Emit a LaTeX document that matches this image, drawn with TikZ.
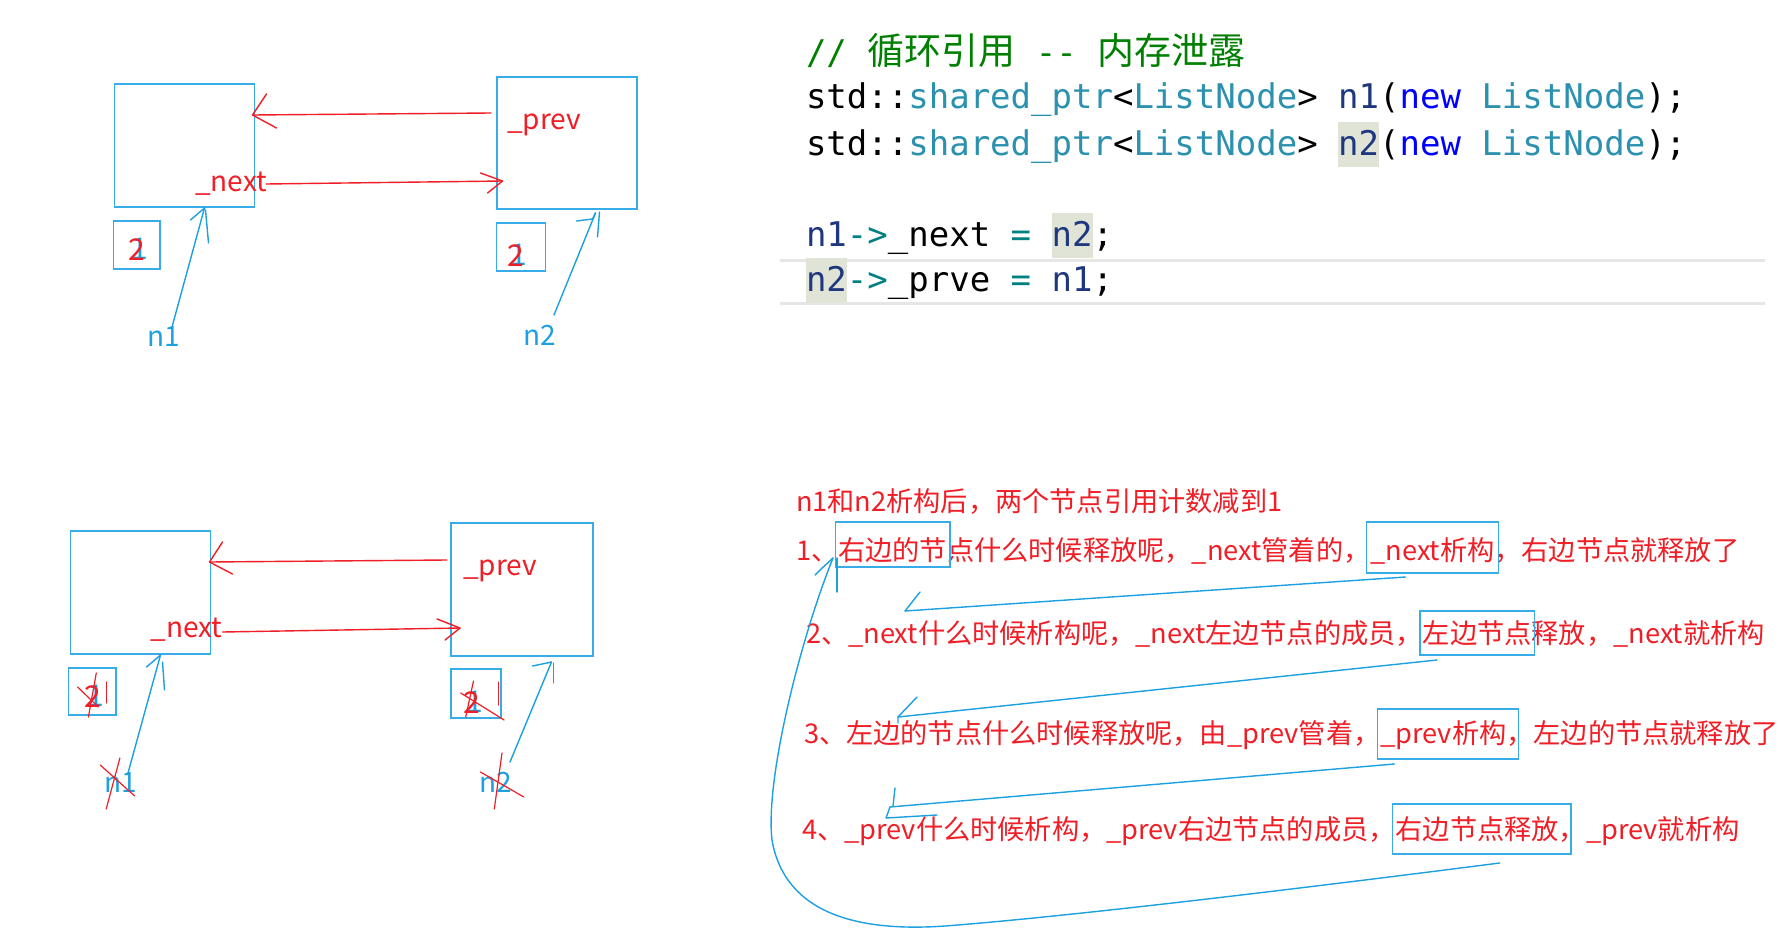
\documentclass[tikz,border=0pt]{standalone}
\usepackage{fontspec}
\newfontfamily\cjk{Noto Sans CJK SC}
\newfontfamily\codef{DejaVu Sans Mono}
\definecolor{tred}{RGB}{240,30,38}
\definecolor{lblue}{RGB}{28,160,226}
\definecolor{boxblue}{RGB}{55,172,230}
\definecolor{cteal}{RGB}{43,145,175}
\definecolor{cnavy}{RGB}{31,55,127}
\definecolor{cblue}{RGB}{0,0,255}
\definecolor{cgreen}{RGB}{0,128,0}
\definecolor{cop}{RGB}{0,128,128}
\definecolor{chl}{RGB}{224,228,214}
\definecolor{lgray}{RGB}{230,230,230}
\newcommand\hlbox[1]{{\setlength\fboxsep{0pt}\colorbox{chl}{\rule[-12pt]{0pt}{45pt}#1}}}
\begin{document}
\begin{tikzpicture}[x=1pt,y=-1pt,
  bbox/.style={draw=boxblue, line width=1.5pt, inner sep=0pt, outer sep=0pt, anchor=north west},
  lbl/.style={font=\cjk\fontsize{28}{32}\selectfont, inner sep=0pt, outer sep=0pt},
  dig/.style={font=\cjk\fontsize{30}{34}\selectfont, inner sep=0pt, outer sep=0pt},
  rd/.style={draw=tred, line width=1.4pt, line cap=round, line join=round},
  rdx/.style={draw=tred, line width=1.2pt, line cap=round, line join=round},
  bl/.style={draw=lblue, line width=1.4pt, line cap=round, line join=round},
  tx/.style={font=\cjk\fontsize{27.2}{32}\selectfont, text=tred, inner sep=0pt, outer sep=0pt, anchor=base west},
  hbx/.style={draw=boxblue, line width=1.4pt},
  code/.style={font=\codef\fontsize{34}{40}\selectfont, inner sep=0pt, outer sep=0pt, anchor=base west}]
\fill[white] (0,0) rectangle (1786,950);
\useasboundingbox (0,0) rectangle (1786,950);

% ---------- code ----------
\draw[lgray, line width=3pt] (780,260) -- (1765,260);
\draw[lgray, line width=3pt] (780,303) -- (1765,303);
\node[code] (c0) at (806,64) {\textcolor{cgreen}{//\ {\cjk\fontsize{37}{40}\selectfont 循环引用}\ -{}-\ {\cjk\fontsize{37}{40}\selectfont 内存泄露}}};
\node[code] (c1) at (806,108) {std::\textcolor{cteal}{shared\_ptr}<\textcolor{cteal}{ListNode}>\ \textcolor{cnavy}{n1}(\textcolor{cblue}{new}\ \textcolor{cteal}{ListNode});};
\node[code] (c2) at (806,155) {std::\textcolor{cteal}{shared\_ptr}<\textcolor{cteal}{ListNode}>\ \hlbox{\textcolor{cnavy}{n2}}(\textcolor{cblue}{new}\ \textcolor{cteal}{ListNode});};
\node[code] (c4) at (806,246) {\textcolor{cnavy}{n1}\textcolor{cop}{->}\_next\ \textcolor{cop}{=}\ \hlbox{\textcolor{cnavy}{n2}};};
\node[code] (c5) at (806,291) {\hlbox{\textcolor{cnavy}{n2}}\textcolor{cop}{->}\_prve\ \textcolor{cop}{=}\ \textcolor{cnavy}{n1};};

% ---------- top diagram ----------
\node[bbox, minimum width=140, minimum height=123] (A) at (114.5,84) {};
\node[bbox, minimum width=140, minimum height=132] (B) at (497,77) {};
\node[bbox, minimum width=46.5, minimum height=48] (sa) at (113.5,221) {};
\node[bbox, minimum width=49, minimum height=48] (sb) at (496.5,223) {};
\node[dig, text=lblue] (sa1) at (140,249) {1};
\node[dig, text=tred] (sa2) at (137,250) {2};
\node[dig, text=lblue] (sb1) at (518.5,255) {1};
\node[dig, text=tred] (sb2) at (515.5,256) {2};
\node[lbl, text=tred, anchor=base west] (prevT) at (507,129) {\_prev};
\node[lbl, text=tred, anchor=base west] (nextT) at (195,191) {\_next};
\node[lbl, text=lblue] (n1T) at (164,337) {n1};
\node[lbl, text=lblue] (n2T) at (540,335) {n2};

\coordinate (tp1) at (491,113); \coordinate (tp2) at (252.5,115);
\draw[rd] (tp1) -- (tp2);
\draw[rd] (tp2) ++(14,-21) -- (tp2) -- ++(24,13);
\coordinate (tn1) at (266,184); \coordinate (tn2) at (502.5,181);
\draw[rd] (tn1) -- (tn2);
\draw[rd] (tn2) ++(-22,-8) -- (tn2) -- ++(-15,12);
\coordinate (pn1) at (172,327); \coordinate (pn1t) at (204.5,208);
\draw[bl] (pn1) -- (pn1t);
\draw[bl] (pn1t) ++(-14,12) -- (pn1t);
\draw[bl] (pn1t) ++(1,2) -- ++(3,33);
\coordinate (pn2) at (554,315); \coordinate (pn2t) at (595.5,213);
\draw[bl] (pn2) -- (pn2t);
\draw[bl] (pn2t) ++(-19,8) -- ++(16,-2) -- (pn2t);
\draw[bl] (pn2t) ++(4,-1) -- ++(-2,25);

% ---------- bottom diagram ----------
\node[bbox, minimum width=140, minimum height=123] (C) at (70.7,531) {};
\node[bbox, minimum width=142, minimum height=133] (D) at (451,523) {};
\node[bbox, minimum width=47.3, minimum height=47] (sc) at (68.7,668) {};
\node[bbox, minimum width=50, minimum height=49] (sd) at (451,669) {};
\node[dig, text=lblue] (sc1) at (95.5,696) {1};
\node[dig, text=tred] (sc2) at (92.5,697) {2};
\node[dig, text=lblue] (sd1) at (474.5,702) {1};
\node[dig, text=tred] (sd2) at (471.5,703) {2};
\node[lbl, text=tred, anchor=base west] (prevB) at (463,575) {\_prev};
\node[lbl, text=tred, anchor=base west] (nextB) at (150.5,637) {\_next};
\node[lbl, text=lblue] (n1B) at (121,783) {n1};
\node[lbl, text=lblue] (n2B) at (496,782) {n2};

\coordinate (bp1) at (447,560); \coordinate (bp2) at (209.5,562);
\draw[rd] (bp1) -- (bp2);
\draw[rd] (bp2) ++(13,-20) -- (bp2) -- ++(23,12);
\coordinate (bn1) at (222.5,632); \coordinate (bn2) at (460,628);
\draw[rd] (bn1) -- (bn2);
\draw[rd] (bn2) ++(-23,-9) -- (bn2) -- ++(-15,12);
\coordinate (qn1) at (128,773); \coordinate (qn1t) at (160.5,655);
\draw[bl] (qn1) -- (qn1t);
\draw[bl] (qn1t) ++(-14,12) -- (qn1t);
\draw[bl] (qn1t) ++(2,7) -- ++(2,28);
\coordinate (qn2) at (510,762); \coordinate (qn2t) at (551.5,662);
\draw[bl] (qn2) -- (qn2t);
\draw[bl] (qn2t) ++(-19,4) -- (qn2t);
\draw[bl] (qn2t) ++(2,1) -- ++(0,20);
% crosses
\draw[rdx] (100.2,765) -- (134.7,796);
\draw[rdx] (119.9,758) -- (106.2,809);
\draw[rdx] (480.4,772) -- (523.8,797);
\draw[rdx] (502,753) -- (494.3,809);
\draw[rdx] (77.6,687) -- (98.3,707);
\draw[rdx] (96.3,673) -- (88.4,717);
\draw[rdx] (106.2,682) -- (106.2,703);
\draw[rdx] (460.7,693) -- (504.1,720);
\draw[rdx] (473.5,681) -- (465.7,717);
\draw[rdx] (498.2,682) -- (498.2,705);

% ---------- explanation text ----------
\node[tx] (t0) at (796,511) {n1和n2析构后，两个节点引用计数减到1};
\node[tx] (t1a) at (796,560) {1、};
\node[tx, text height=38pt, text depth=7pt] (t1b) at (t1a.base east) {右边的节};
\node[tx] (t1c) at (t1b.base east) {点什么时候释放呢，\_next管着的，};
\node[tx, text height=38pt, text depth=13pt] (t1d) at (t1c.base east) {\_next析构};
\node[tx] (t1e) at (t1d.base east) {，右边节点就释放了};
\draw[hbx] ([xshift=-3pt]t1b.north west) rectangle ([xshift=3pt]t1b.south east);
\draw[hbx] ([xshift=-4pt]t1d.north west) rectangle ([xshift=4pt]t1d.south east);

\node[tx] (t2a) at (806,643) {2、\_next什么时候析构呢，\_next左边节点的成员，};
\node[tx, text height=32pt, text depth=12pt] (t2b) at (t2a.base east) {左边节点};
\node[tx] (t2c) at (t2b.base east) {释放，\_next就析构};
\draw[hbx] ([xshift=-3pt]t2b.north west) rectangle ([xshift=3pt]t2b.south east);

\node[tx] (t3a) at (804,743) {3、左边的节点什么时候释放呢，由\_prev管着，};
\node[tx, text height=34pt, text depth=16pt] (t3b) at (t3a.base east) {\_prev析构};
\node[tx] (t3c) at (t3b.base east) {，左边的节点就释放了};
\draw[hbx] ([xshift=-3pt]t3b.north west) rectangle ([xshift=12pt]t3b.south east);

\node[tx] (t4a) at (802,839) {4、\_prev什么时候析构，\_prev右边节点的成员，};
\node[tx, text height=35pt, text depth=15pt] (t4b) at (t4a.base east) {右边节点释放};
\node[tx] (t4c) at (t4b.base east) {，\_prev就析构};
\draw[hbx] ([xshift=-3pt]t4b.north west) rectangle ([xshift=12pt]t4b.south east);

% ---------- blue arrows in text ----------
\coordinate (a1t) at (905,611);
\draw[bl] ([xshift=35pt,yshift=-4pt]t1d.south west) -- (a1t);
\draw[bl] (a1t) ++(15,-19) -- (a1t);
\coordinate (a2t) at (898,717);
\draw[bl] ([xshift=14pt,yshift=-5pt]t2b.south west) -- (a2t);
\draw[bl] (a2t) ++(19,-20) -- (a2t) -- ++(0,6);
\coordinate (a3t) at (890,807);
\draw[bl] ([xshift=14pt,yshift=-5pt]t3b.south west) -- (a3t);
\draw[bl] (a3t) ++(5,-19) -- ++(-2,18);
\draw[bl] (a3t) -- ++(-4,11) -- ++(51,-3);
\coordinate (a4t) at (833,558);
\draw[bl] ([xshift=104pt,yshift=-9pt]t4b.south west) .. controls (1250,895) and (1050,918) .. (945,926) .. controls (860,932) and (785,915) .. (772,840) .. controls (765,780) and (800,640) .. (a4t);
\draw[bl] (a4t) ++(-18,17) -- ++(5,-5) -- (a4t);
\draw[bl] (a4t) ++(4,0) -- ++(0,34);
\end{tikzpicture}
\end{document}
